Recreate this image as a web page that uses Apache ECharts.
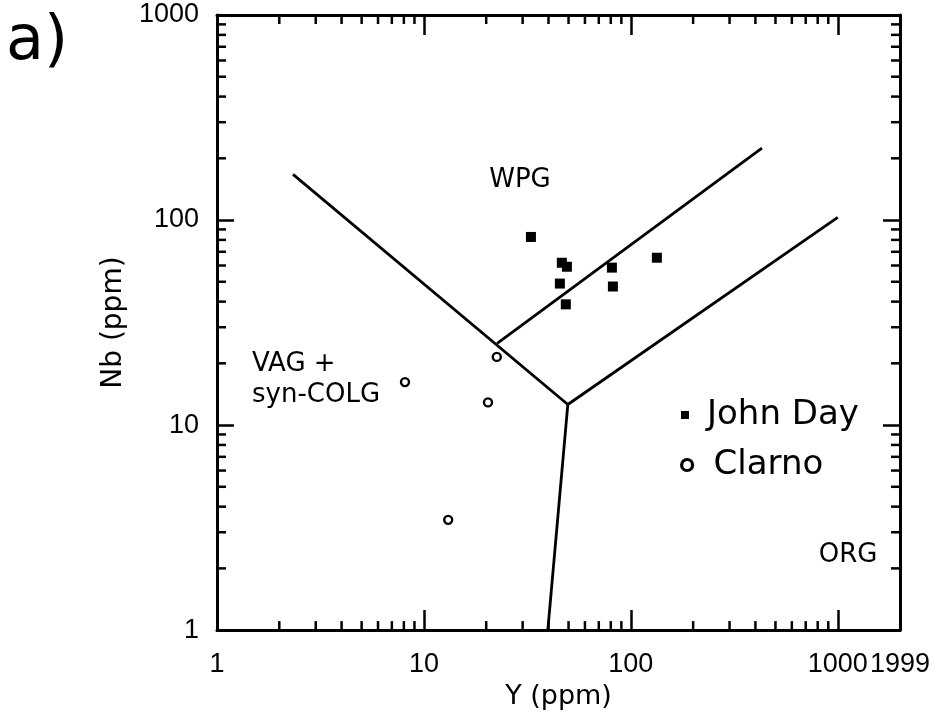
<!DOCTYPE html>
<html><head><meta charset="utf-8">
<script src="https://cdn.jsdelivr.net/npm/echarts@6/dist/echarts.min.js"></script>
<style>html,body{margin:0;padding:0;background:#fff}#c{width:934px;height:715px}</style>
</head><body><div id="c"></div>
<script>
// ---- data ----
const xRange = [1, 1999];
const yRange = [1, 1000];
const johnDayY  = [32.9, 46.4, 49.1, 45.4, 48.5, 81.0, 81.9, 133.6];
const johnDayNb = [82.7, 61.9, 59.2, 49.0, 38.8, 58.6, 47.4, 65.5];
const clarnoY   = [8.1, 22.5, 20.4, 13.1];
const clarnoNb  = [16.2, 21.5, 12.9, 3.45];
// field boundaries (Y, Nb)
const lineVagWpg = [[2.33, 167], [49.6, 12.6]];
const lineWpgOrg = [[49.6, 12.6], [1000, 103]];
const lineUpper  = [[22.6, 25.0], [430, 224]];
const lineVagOrg = [[49.6, 12.6], [39.7, 1]];
// minor tick values
const xMinor = [2,3,4,5,6,7,8,9,20,30,40,50,60,70,80,90,200,300,400,500,600,700,800,900];
const yMinor = [2,3,4,5,6,7,8,9,20,30,40,50,60,70,80,90,200,300,400,500,600,700,800,900];
const fieldLabels = [
  {text: 'WPG', x: 520, y: 180, align: 'center'},
  {text: 'VAG +', x: 252, y: 364, align: 'left'},
  {text: 'syn-COLG', x: 252, y: 395, align: 'left'},
  {text: 'ORG', x: 848, y: 555, align: 'center'}
];

const NUMFONT = '"Liberation Sans", Arial, sans-serif';
const FONT = '"DejaVu Sans", sans-serif';
const chart = echarts.init(document.getElementById('c'), null, {renderer: 'canvas'});

const tickData = [];
xMinor.forEach(v => { tickData.push([v, 1, 0]); tickData.push([v, 1, 1]); });
yMinor.forEach(v => { tickData.push([1, v, 2]); tickData.push([1, v, 3]); });

function lineSeries(d) {
  return {type: 'line', data: d, symbol: 'none', silent: true, z: 3,
    lineStyle: {color: '#000', width: 2.8}, animation: false};
}
const axisCommon = {
  type: 'log', logBase: 10,
  axisLine: {show: true, lineStyle: {color: '#000', width: 3}},
  splitLine: {show: false},
};
const option = {
  backgroundColor: '#fff',
  animation: false,
  grid: {left: 217, top: 15, width: 683, height: 619, containLabel: false},
  xAxis: [
    Object.assign({}, axisCommon, {
      min: xRange[0], max: xRange[1], position: 'bottom',
      name: 'Y (ppm)', nameLocation: 'middle', nameGap: 44,
      nameTextStyle: {fontFamily: FONT, fontSize: 27, color: '#000'},
      axisTick: {inside: true, length: 20, lineStyle: {color: '#000', width: 2.5}},
      axisLabel: {fontFamily: NUMFONT, fontSize: 27, color: '#000', margin: 21,
        showMaxLabel: true, showMinLabel: true,
        formatter: v => String(Math.round(v))}
    }),
    Object.assign({}, axisCommon, {
      min: xRange[0], max: xRange[1], position: 'top',
      axisTick: {inside: true, length: 20, lineStyle: {color: '#000', width: 2.5}},
      axisLabel: {show: false}
    })
  ],
  yAxis: [
    Object.assign({}, axisCommon, {
      min: yRange[0], max: yRange[1], position: 'left',
      name: 'Nb (ppm)', nameLocation: 'middle', nameGap: 84,
      nameTextStyle: {fontFamily: FONT, fontSize: 28, color: '#000'},
      axisTick: {inside: true, length: 17, lineStyle: {color: '#000', width: 2.5}},
      axisLabel: {fontFamily: NUMFONT, fontSize: 27, color: '#000', margin: 18,
        showMaxLabel: true, showMinLabel: true,
        formatter: v => String(Math.round(v))}
    }),
    Object.assign({}, axisCommon, {
      min: yRange[0], max: yRange[1], position: 'right',
      axisTick: {inside: true, length: 17, lineStyle: {color: '#000', width: 2.5}},
      axisLabel: {show: false}
    })
  ],
  legend: [
    {data: ['John Day'], orient: 'vertical', left: 681, top: 397, padding: 0,
      icon: 'rect', itemWidth: 8, itemHeight: 8,
      itemStyle: {color: '#000', opacity: 1},
      textStyle: {fontFamily: FONT, fontSize: 34, color: '#000', lineHeight: 36, padding: [0, 0, 0, 13]}},
    {data: ['Clarno'], orient: 'vertical', left: 680, top: 447, padding: 0,
      icon: 'circle', itemWidth: 13, itemHeight: 11,
      itemStyle: {borderWidth: 3.2, borderColor: '#000', color: '#fff', opacity: 1},
      textStyle: {fontFamily: FONT, fontSize: 34, color: '#000', lineHeight: 36, padding: [0, 0, 0, 15]}}
  ],
  graphic: [
    {type: 'text', left: 6, top: 12, style: {text: 'a)', font: '62px ' + FONT, fill: '#000'}}
  ].concat(fieldLabels.map(l => ({
    type: 'text', x: l.x, y: l.y,
    style: {text: l.text, font: '26px ' + FONT, fill: '#000', textAlign: l.align, textVerticalAlign: 'middle'}
  }))),
  series: [
    lineSeries(lineVagWpg), lineSeries(lineWpgOrg), lineSeries(lineUpper), lineSeries(lineVagOrg),
    {name: 'John Day', type: 'scatter', symbol: 'rect', symbolSize: 10, z: 5,
      itemStyle: {color: '#000', opacity: 1}, emphasis: {disabled: true},
      data: johnDayY.map((v, i) => [v, johnDayNb[i]])},
    {name: 'Clarno', type: 'scatter', symbol: 'circle', symbolSize: 8, z: 5,
      itemStyle: {color: '#fff', borderColor: '#000', borderWidth: 2.4, opacity: 1}, emphasis: {disabled: true},
      data: clarnoY.map((v, i) => [v, clarnoNb[i]])},
    {type: 'custom', silent: true, clip: false, z: 4, data: tickData,
      encode: {x: 0, y: 1},
      renderItem: function (params, api) {
        const a = api.value(0), b = api.value(1), side = api.value(2);
        let p, q;
        if (side === 0) { p = api.coord([a, yRange[0]]); q = [p[0], p[1] - 9]; }
        else if (side === 1) { p = api.coord([a, yRange[1]]); q = [p[0], p[1] + 9]; }
        else if (side === 2) { p = api.coord([xRange[0], b]); q = [p[0] + 9, p[1]]; }
        else { p = api.coord([xRange[1], b]); q = [p[0] - 9, p[1]]; }
        return {type: 'line', shape: {x1: p[0], y1: p[1], x2: q[0], y2: q[1]},
          style: {stroke: '#000', lineWidth: 2.5}};
      }}
  ]
};
chart.setOption(option);
</script></body></html>
